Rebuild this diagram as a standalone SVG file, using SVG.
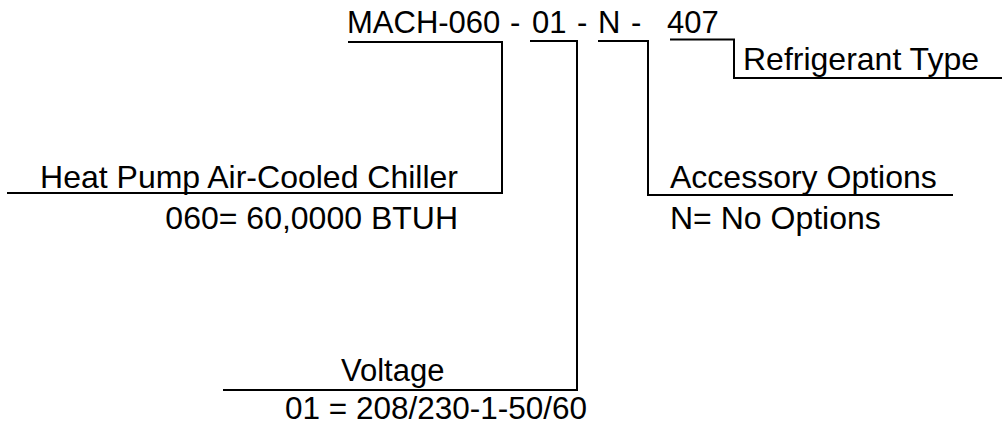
<svg xmlns="http://www.w3.org/2000/svg" width="1002" height="428" viewBox="0 0 1002 428">
<style>
text{font-family:"Liberation Sans",Arial,sans-serif;font-size:32px;fill:#000}
.top{font-size:31px}
.ln{fill:none;stroke:#000;stroke-width:2}
</style>
<rect width="1002" height="428" fill="#fff"/>
<g id="model-code"><text class="top" y="33"><tspan x="347">MACH-060</tspan> <tspan x="510">-</tspan> <tspan x="532">01</tspan> <tspan x="577">-</tspan> <tspan x="598">N</tspan> <tspan x="631">-</tspan> <tspan x="667">407</tspan></text></g>
<g id="connectors">
<path class="ln" d="M348,42 H502 V193 H7"/>
<path class="ln" d="M530,41 H577 V390 H223"/>
<path class="ln" d="M598,41 H648 V195 H953"/>
<path class="ln" d="M670,39.5 H734 V78 H1002"/>
</g>
<g id="node-type"><text x="458" y="188" text-anchor="end">Heat Pump Air-Cooled Chiller</text><text x="458" y="229" text-anchor="end">060= 60,0000 BTUH</text></g>
<g id="node-voltage"><text x="341" y="381" style="font-size:31px">Voltage</text><text x="285" y="419" style="font-size:31.5px">01 = 208/230-1-50/60</text></g>
<g id="node-accessory"><text x="670" y="188">Accessory Options</text><text x="670" y="229">N= No Options</text></g>
<g id="node-refrigerant"><text x="743" y="70">Refrigerant Type</text></g>
</svg>
